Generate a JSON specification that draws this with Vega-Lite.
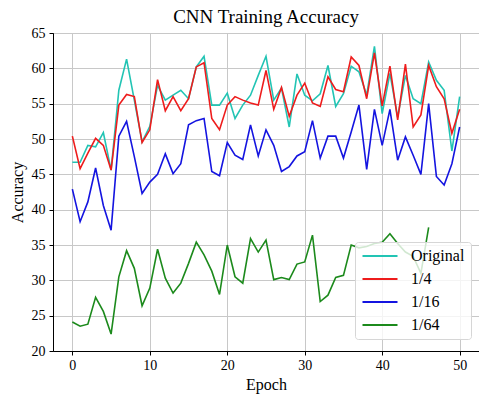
{
  "$schema": "https://vega.github.io/schema/vega-lite/v6.json",
  "autosize": "none",
  "width": 426,
  "height": 318,
  "padding": {"left": 53, "top": 33, "right": 0, "bottom": 43},
  "background": "white",
  "title": {"text": "CNN Training Accuracy", "font": "Liberation Serif", "fontSize": 19, "fontWeight": "normal", "color": "black", "anchor": "middle", "offset": -1},
  "config": {
    "font": "Liberation Serif",
    "view": {"stroke": "black", "strokeWidth": 1},
    "axis": {
      "labelFont": "Liberation Serif", "labelFontSize": 14, "labelColor": "black",
      "titleFont": "Liberation Serif", "titleFontSize": 16, "titleFontWeight": "normal", "titleColor": "black",
      "domainColor": "black", "tickColor": "black", "tickSize": 4,
      "gridColor": "#c8c8c8", "gridWidth": 1
    },
    "legend": {"labelFont": "Liberation Serif"}
  },
  "data": {"values": [
    {"epoch": 0, "Original": 46.7, "1/4": 50.4, "1/16": 42.9, "1/64": 24.1},
    {"epoch": 1, "Original": 46.7, "1/4": 45.8, "1/16": 38.3, "1/64": 23.5},
    {"epoch": 2, "Original": 49.1, "1/4": 48.0, "1/16": 41.1, "1/64": 23.8},
    {"epoch": 3, "Original": 48.9, "1/4": 50.1, "1/16": 45.9, "1/64": 27.6},
    {"epoch": 4, "Original": 50.9, "1/4": 49.1, "1/16": 40.6, "1/64": 25.6},
    {"epoch": 5, "Original": 45.6, "1/4": 45.6, "1/16": 37.1, "1/64": 22.4},
    {"epoch": 6, "Original": 56.9, "1/4": 54.8, "1/16": 50.4, "1/64": 30.5},
    {"epoch": 7, "Original": 61.3, "1/4": 56.3, "1/16": 52.5, "1/64": 34.2},
    {"epoch": 8, "Original": 55.5, "1/4": 56.0, "1/16": 47.5, "1/64": 31.7},
    {"epoch": 9, "Original": 49.6, "1/4": 49.5, "1/16": 42.3, "1/64": 26.4},
    {"epoch": 10, "Original": 51.8, "1/4": 51.3, "1/16": 43.9, "1/64": 28.9},
    {"epoch": 11, "Original": 57.6, "1/4": 58.4, "1/16": 45.0, "1/64": 34.4},
    {"epoch": 12, "Original": 55.5, "1/4": 54.0, "1/16": 47.9, "1/64": 30.3},
    {"epoch": 13, "Original": 56.2, "1/4": 56.0, "1/16": 45.1, "1/64": 28.2},
    {"epoch": 14, "Original": 56.9, "1/4": 54.0, "1/16": 46.5, "1/64": 29.6},
    {"epoch": 15, "Original": 55.7, "1/4": 55.7, "1/16": 52.0, "1/64": 32.4},
    {"epoch": 16, "Original": 60.2, "1/4": 60.2, "1/16": 52.6, "1/64": 35.4},
    {"epoch": 17, "Original": 61.7, "1/4": 60.8, "1/16": 52.9, "1/64": 33.6},
    {"epoch": 18, "Original": 54.8, "1/4": 52.9, "1/16": 45.4, "1/64": 31.3},
    {"epoch": 19, "Original": 54.8, "1/4": 51.3, "1/16": 44.8, "1/64": 28.0},
    {"epoch": 20, "Original": 56.5, "1/4": 54.8, "1/16": 49.5, "1/64": 35.0},
    {"epoch": 21, "Original": 52.9, "1/4": 56.0, "1/16": 47.7, "1/64": 30.5},
    {"epoch": 22, "Original": 54.8, "1/4": 55.5, "1/16": 47.1, "1/64": 29.6},
    {"epoch": 23, "Original": 56.2, "1/4": 55.1, "1/16": 52.0, "1/64": 35.9},
    {"epoch": 24, "Original": 59.0, "1/4": 54.8, "1/16": 47.6, "1/64": 34.0},
    {"epoch": 25, "Original": 61.7, "1/4": 59.7, "1/16": 51.3, "1/64": 35.7},
    {"epoch": 26, "Original": 55.5, "1/4": 54.2, "1/16": 49.1, "1/64": 30.1},
    {"epoch": 27, "Original": 57.2, "1/4": 57.3, "1/16": 45.4, "1/64": 30.4},
    {"epoch": 28, "Original": 51.7, "1/4": 53.2, "1/16": 46.1, "1/64": 30.1},
    {"epoch": 29, "Original": 59.2, "1/4": 56.2, "1/16": 47.6, "1/64": 32.3},
    {"epoch": 30, "Original": 56.2, "1/4": 57.9, "1/16": 48.2, "1/64": 32.6},
    {"epoch": 31, "Original": 55.4, "1/4": 55.1, "1/16": 52.6, "1/64": 36.4},
    {"epoch": 32, "Original": 56.4, "1/4": 54.6, "1/16": 47.3, "1/64": 27.0},
    {"epoch": 33, "Original": 60.4, "1/4": 58.8, "1/16": 50.4, "1/64": 27.9},
    {"epoch": 34, "Original": 54.6, "1/4": 57.0, "1/16": 50.4, "1/64": 30.4},
    {"epoch": 35, "Original": 56.4, "1/4": 56.7, "1/16": 47.3, "1/64": 30.7},
    {"epoch": 36, "Original": 60.3, "1/4": 61.6, "1/16": 51.0, "1/64": 35.0},
    {"epoch": 37, "Original": 59.5, "1/4": 60.4, "1/16": 54.8, "1/64": 34.6},
    {"epoch": 38, "Original": 56.2, "1/4": 55.7, "1/16": 45.7, "1/64": 34.8},
    {"epoch": 39, "Original": 63.1, "1/4": 62.2, "1/16": 54.2, "1/64": 35.2},
    {"epoch": 40, "Original": 53.6, "1/4": 54.7, "1/16": 49.1, "1/64": 35.4},
    {"epoch": 41, "Original": 59.3, "1/4": 60.3, "1/16": 54.2, "1/64": 36.6},
    {"epoch": 42, "Original": 53.1, "1/4": 52.7, "1/16": 47.0, "1/64": 35.2},
    {"epoch": 43, "Original": 59.0, "1/4": 60.6, "1/16": 50.3, "1/64": 34.0},
    {"epoch": 44, "Original": 55.7, "1/4": 51.7, "1/16": 47.7, "1/64": 33.4},
    {"epoch": 45, "Original": 55.0, "1/4": 53.4, "1/16": 45.0, "1/64": 31.0},
    {"epoch": 46, "Original": 60.9, "1/4": 60.4, "1/16": 55.0, "1/64": 37.5},
    {"epoch": 47, "Original": 58.3, "1/4": 57.4, "1/16": 44.7},
    {"epoch": 48, "Original": 56.9, "1/4": 55.7, "1/16": 43.5},
    {"epoch": 49, "Original": 48.3, "1/4": 50.8, "1/16": 46.5},
    {"epoch": 50, "Original": 56.0, "1/4": 54.2, "1/16": 51.7}
  ]},
  "transform": [
    {"fold": ["Original", "1/4", "1/16", "1/64"], "as": ["series", "acc"]},
    {"filter": "isValid(datum.acc)"}
  ],
  "mark": {"type": "line", "strokeWidth": 1.6, "clip": true},
  "encoding": {
    "x": {"field": "epoch", "type": "quantitative", "title": "Epoch",
      "scale": {"domain": [-2.5, 52.5], "nice": false, "zero": false},
      "axis": {"values": [0, 10, 20, 30, 40, 50], "labelPadding": 3, "titlePadding": 4, "labelFont": "Liberation Serif"}},
    "y": {"field": "acc", "type": "quantitative", "title": "Accuracy",
      "scale": {"domain": [20, 65], "nice": false, "zero": false},
      "axis": {"values": [20, 25, 30, 35, 40, 45, 50, 55, 60, 65], "labelPadding": 4, "titlePadding": 6, "labelFont": "Liberation Serif"}},
    "color": {"field": "series", "type": "nominal",
      "scale": {"domain": ["Original", "1/4", "1/16", "1/64"], "range": ["#22c4b4", "#ee1c1c", "#1414e0", "#1c8a1c"]},
      "legend": {"title": null, "orient": "none", "legendX": 302, "legendY": 209,
        "fillColor": "rgba(255,255,255,0.8)", "strokeColor": "#d6d6d6", "cornerRadius": 3, "padding": 6,
        "symbolType": "M-3.5,0H3.5", "symbolSize": 100, "symbolStrokeWidth": 2, "symbolOffset": 11,
        "labelFont": "Liberation Serif", "labelFontSize": 16, "labelColor": "black", "labelOffset": 23, "rowPadding": 7}},
    "order": {"field": "series"}
  }
}
